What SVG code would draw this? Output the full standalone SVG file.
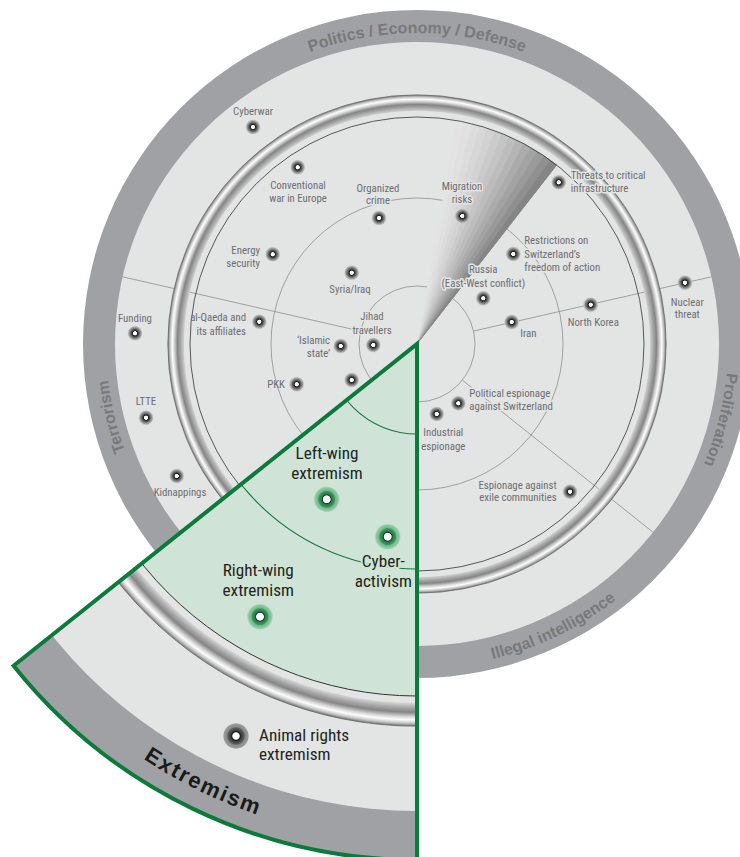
<svg xmlns="http://www.w3.org/2000/svg" width="740" height="857" viewBox="0 0 740 857">
<style>
.lbl{font-family:"Liberation Sans Narrow","Roboto Condensed","DejaVu Sans Condensed","Liberation Sans",sans-serif;font-stretch:condensed;font-size:10.8px;fill:#6d6e71}
.halo{paint-order:stroke;stroke:#e3e4e4;stroke-width:3px;stroke-linejoin:round}
.glbl{font-family:"Liberation Sans Narrow","Roboto Condensed","DejaVu Sans Condensed","Liberation Sans",sans-serif;font-stretch:condensed;font-size:17.2px;fill:#231f20}
.ghalo{paint-order:stroke;stroke:#cfe4d6;stroke-width:4px;stroke-linejoin:round}
.band{font-family:"Liberation Sans",Arial,sans-serif;font-weight:bold;font-size:16px;fill:#78797b}
.ext{font-family:"Liberation Sans",Arial,sans-serif;font-weight:bold;font-size:22px;fill:#1a1a1a;letter-spacing:1.8px}
.thin{fill:none;stroke:#8e8e8e;stroke-width:0.8}
.gthin{fill:none;stroke:#137a40;stroke-width:1.1}
.m{fill:url(#gm)}
.mg{fill:url(#gg)}
</style>
<defs>
<radialGradient id="gm">
<stop offset="0" stop-color="#fff"/><stop offset="0.24" stop-color="#fff"/><stop offset="0.32" stop-color="#1e1e1e"/><stop offset="0.52" stop-color="#555"/><stop offset="0.66" stop-color="#7d7d7d"/><stop offset="0.84" stop-color="#aaa"/><stop offset="1" stop-color="#c8c8c8" stop-opacity="0.5"/>
</radialGradient>
<radialGradient id="gg">
<stop offset="0" stop-color="#fff"/><stop offset="0.27" stop-color="#fff"/><stop offset="0.33" stop-color="#173d27"/><stop offset="0.42" stop-color="#2b7a4b"/><stop offset="0.62" stop-color="#3d9862"/><stop offset="0.68" stop-color="#6fb888"/><stop offset="0.9" stop-color="#92cba3"/><stop offset="1" stop-color="#a9d6b7" stop-opacity="0.4"/>
</radialGradient>
<radialGradient id="ga">
<stop offset="0" stop-color="#fff"/><stop offset="0.25" stop-color="#fff"/><stop offset="0.32" stop-color="#1a1a1a"/><stop offset="0.45" stop-color="#444"/><stop offset="0.62" stop-color="#5c5c5c"/><stop offset="0.72" stop-color="#8a8a8a"/><stop offset="0.94" stop-color="#9c9c9c"/><stop offset="1" stop-color="#b8b8b8" stop-opacity="0.3"/>
</radialGradient>
<radialGradient id="tube1" gradientUnits="userSpaceOnUse" cx="417" cy="344" r="249">
<stop offset="0" stop-color="#e3e4e4"/><stop offset="0.935" stop-color="#d4d4d4"/><stop offset="0.95" stop-color="#a5a5a5"/><stop offset="0.962" stop-color="#858585"/><stop offset="0.975" stop-color="#d6d6d6"/><stop offset="0.983" stop-color="#fdfdfd"/><stop offset="0.992" stop-color="#c4c4c4"/><stop offset="1" stop-color="#777"/>
</radialGradient>
<radialGradient id="tube2" gradientUnits="userSpaceOnUse" cx="417" cy="344" r="382">
<stop offset="0" stop-color="#e3e4e4"/><stop offset="0.94" stop-color="#d4d4d4"/><stop offset="0.953" stop-color="#a5a5a5"/><stop offset="0.964" stop-color="#858585"/><stop offset="0.976" stop-color="#d6d6d6"/><stop offset="0.984" stop-color="#fdfdfd"/><stop offset="0.993" stop-color="#c4c4c4"/><stop offset="1" stop-color="#777"/>
</radialGradient>
<clipPath id="wclip"><path d="M417,344 L13.58,665.72 A516,516 0 0 0 417,860 Z"/></clipPath>
<path id="pTop" d="M217.1,105.8 A311,311 0 0 1 616.9,105.8"/>
<path id="pPro" d="M696.5,207.7 A311,311 0 0 1 599.8,595.6"/>
<path id="pIll" d="M337,657.9 A324,324 0 0 0 712.3,477.3"/>
<path id="pTer" d="M231.6,593.7 A311,311 0 0 1 138.9,204.7"/>
<path id="pExt" d="M5,621.9 A497,497 0 0 0 451.7,839.8"/>
</defs>

<g id="disc">
<circle cx="417" cy="344" r="334" fill="#a0a1a4"/>
<circle cx="417" cy="344" r="302" fill="#e3e4e4"/>
</g>

<g id="connectors">
<circle class="thin" cx="417" cy="344" r="146"/>
<circle class="thin" cx="417" cy="344" r="58"/>
<line class="thin" x1="473.55" y1="331.09" x2="711.43" y2="276.8"/>
<line class="thin" x1="360.45" y1="331.09" x2="122.57" y2="276.8"/>
<line class="thin" x1="462.35" y1="380.16" x2="653.11" y2="532.29"/>
</g>

<g id="sweep">
<path d="M417,344 L456.42,120.45 A227,227 0 0 1 556.75,165.12 Z" fill="#e3e3e3"/>
<path d="M417,344 L464.2,121.96 A227,227 0 0 1 556.75,165.12 Z" fill="#e0e0e0"/>
<path d="M417,344 L471.92,123.74 A227,227 0 0 1 556.75,165.12 Z" fill="#dcdcdc"/>
<path d="M417,344 L479.57,125.79 A227,227 0 0 1 556.75,165.12 Z" fill="#d7d7d7"/>
<path d="M417,344 L487.15,128.11 A227,227 0 0 1 556.75,165.12 Z" fill="#d2d2d2"/>
<path d="M417,344 L494.64,130.69 A227,227 0 0 1 556.75,165.12 Z" fill="#cbcbcb"/>
<path d="M417,344 L502.04,133.53 A227,227 0 0 1 556.75,165.12 Z" fill="#c4c4c4"/>
<path d="M417,344 L509.33,136.62 A227,227 0 0 1 556.75,165.12 Z" fill="#bdbdbd"/>
<path d="M417,344 L516.51,139.97 A227,227 0 0 1 556.75,165.12 Z" fill="#b5b5b5"/>
<path d="M417,344 L523.57,143.57 A227,227 0 0 1 556.75,165.12 Z" fill="#acacac"/>
<path d="M417,344 L530.5,147.41 A227,227 0 0 1 556.75,165.12 Z" fill="#a3a3a3"/>
<path d="M417,344 L537.29,151.49 A227,227 0 0 1 556.75,165.12 Z" fill="#9a9a9a"/>
<path d="M417,344 L543.94,155.81 A227,227 0 0 1 556.75,165.12 Z" fill="#909090"/>
<path d="M417,344 L550.43,160.35 A227,227 0 0 1 556.75,165.12 Z" fill="#858585"/>
</g>

<g id="ring">
<circle cx="417" cy="344" r="241" fill="none" stroke="url(#tube1)" stroke-width="16"/>
<circle cx="417" cy="344" r="249.2" fill="none" stroke="#5f5f5f" stroke-width="0.7"/>
<circle cx="417" cy="344" r="227" fill="none" stroke="#333" stroke-width="0.8"/>
</g>

<g id="band-labels">
<text class="band" text-anchor="middle"><textPath href="#pTop" startOffset="50%">Politics / Economy / Defense</textPath></text>
<text class="band" text-anchor="middle"><textPath href="#pPro" startOffset="50%">Proliferation</textPath></text>
<text class="band" text-anchor="middle"><textPath href="#pIll" startOffset="50%">Illegal intelligence</textPath></text>
<text class="band" text-anchor="middle"><textPath href="#pTer" startOffset="50%">Terrorism</textPath></text>
</g>

<g id="n-cyberwar"><circle class="m" cx="253" cy="127" r="7.5"/><text class="lbl" x="253" y="115" text-anchor="middle">Cyberwar</text></g>
<g id="n-conventional"><circle class="m" cx="297.7" cy="167.3" r="7.5"/><text class="lbl" text-anchor="middle"><tspan x="298" y="189">Conventional</tspan><tspan x="298" y="202">war in Europe</tspan></text></g>
<g id="n-organized"><circle class="m" cx="379" cy="218" r="7.5"/><text class="lbl halo" text-anchor="middle"><tspan x="378" y="192">Organized</tspan><tspan x="378" y="204">crime</tspan></text></g>
<g id="n-energy"><circle class="m" cx="272.7" cy="254.3" r="7.5"/><text class="lbl" text-anchor="end"><tspan x="260" y="254">Energy</tspan><tspan x="260" y="267">security</tspan></text></g>
<g id="n-syria"><circle class="m" cx="351.7" cy="272.7" r="7.5"/><text class="lbl" x="350" y="293" text-anchor="middle">Syria/Iraq</text></g>
<g id="n-alqaeda"><circle class="m" cx="259.3" cy="321.7" r="7.5"/><text class="lbl" text-anchor="end"><tspan x="246" y="321">al-Qaeda and</tspan><tspan x="246" y="335">its affiliates</tspan></text></g>
<g id="n-jihad"><circle class="m" cx="373.3" cy="345" r="7.5"/><text class="lbl halo" text-anchor="middle"><tspan x="372" y="320">Jihad</tspan><tspan x="372" y="334">travellers</tspan></text></g>
<g id="n-islamic"><circle class="m" cx="340.7" cy="346" r="7.5"/><text class="lbl" text-anchor="end"><tspan x="330" y="344">‘Islamic</tspan><tspan x="330" y="357">state’</tspan></text></g>
<g id="n-pkk"><circle class="m" cx="296.7" cy="384.3" r="7.5"/><text class="lbl" x="285" y="388" text-anchor="end">PKK</text></g>
<g id="n-unlabeled"><circle class="m" cx="351.7" cy="380" r="7.5"/></g>
<g id="n-funding"><circle class="m" cx="135" cy="333.3" r="7.5"/><text class="lbl" x="135" y="322" text-anchor="middle">Funding</text></g>
<g id="n-ltte"><circle class="m" cx="146" cy="417.7" r="7.5"/><text class="lbl" x="146" y="405" text-anchor="middle">LTTE</text></g>
<g id="n-kidnappings"><circle class="m" cx="176.7" cy="476" r="7.5"/><text class="lbl" x="180" y="496" text-anchor="middle">Kidnappings</text></g>
<g id="n-migration"><circle class="m" cx="462.3" cy="216" r="7.5"/><text class="lbl halo" text-anchor="middle"><tspan x="462" y="190">Migration</tspan><tspan x="462" y="203">risks</tspan></text></g>
<g id="n-threats"><circle class="m" cx="558.7" cy="182.3" r="7.5"/><text class="lbl halo"><tspan x="570.7" y="179">Threats to critical</tspan><tspan x="570.7" y="192">infrastructure</tspan></text></g>
<g id="n-restrictions"><circle class="m" cx="513.3" cy="254" r="7.5"/><text class="lbl halo"><tspan x="524.3" y="244">Restrictions on</tspan><tspan x="524.3" y="258">Switzerland’s</tspan><tspan x="524.3" y="271">freedom of action</tspan></text></g>
<g id="n-russia"><circle class="m" cx="483.3" cy="298.3" r="7.5"/><text class="lbl halo" text-anchor="middle"><tspan x="483.3" y="273">Russia</tspan><tspan x="483.3" y="287">(East-West conflict)</tspan></text></g>
<g id="n-iran"><circle class="m" cx="511.7" cy="322" r="7.5"/><text class="lbl" x="528.3" y="337" text-anchor="middle">Iran</text></g>
<g id="n-northkorea"><circle class="m" cx="590.7" cy="304.7" r="7.5"/><text class="lbl" x="593.3" y="326" text-anchor="middle">North Korea</text></g>
<g id="n-nuclear"><circle class="m" cx="685" cy="282.7" r="7.5"/><text class="lbl" text-anchor="middle"><tspan x="687.3" y="306">Nuclear</tspan><tspan x="687.3" y="318">threat</tspan></text></g>
<g id="n-political"><circle class="m" cx="458.3" cy="403.3" r="7.5"/><text class="lbl halo"><tspan x="469.3" y="397">Political espionage</tspan><tspan x="469.3" y="410">against Switzerland</tspan></text></g>
<g id="n-industrial"><circle class="m" cx="436.7" cy="414" r="7.5"/><text class="lbl halo" text-anchor="middle"><tspan x="443.3" y="436">Industrial</tspan><tspan x="443.3" y="450">espionage</tspan></text></g>
<g id="n-exile"><circle class="m" cx="570" cy="491.7" r="7.5"/><text class="lbl" text-anchor="end"><tspan x="556.7" y="489">Espionage against</tspan><tspan x="556.7" y="501">exile communities</tspan></text></g>

<g id="extremism-sector">
<g clip-path="url(#wclip)">
<circle cx="417" cy="344" r="516" fill="#a0a1a4"/>
<circle cx="417" cy="344" r="467" fill="#e3e4e4"/>
<circle cx="417" cy="344" r="352" fill="#cfe4d6"/>
<circle cx="417" cy="344" r="370.5" fill="none" stroke="url(#tube2)" stroke-width="23"/>
<circle cx="417" cy="344" r="382.2" fill="none" stroke="#5f5f5f" stroke-width="0.8"/>
<circle cx="417" cy="344" r="352" fill="none" stroke="#333" stroke-width="1"/>
<circle class="gthin" cx="417" cy="344" r="90"/>
<circle class="gthin" cx="417" cy="344" r="225"/>
</g>
<text class="ext" text-anchor="middle"><textPath href="#pExt" startOffset="50%">Extremism</textPath></text>
<path d="M417,860 L417,344 L13.58,665.72 A516,516 0 0 0 417,860" fill="none" stroke="#0b7a3b" stroke-width="4" stroke-linejoin="miter"/>
</g>

<g id="n-leftwing"><circle class="mg" cx="326.7" cy="499.3" r="13"/><text class="glbl" text-anchor="middle"><tspan x="327" y="459">Left-wing</tspan><tspan x="327" y="479">extremism</tspan></text></g>
<g id="n-cyberactivism"><circle class="mg" cx="387.7" cy="536.7" r="13"/><text class="glbl ghalo" text-anchor="middle"><tspan x="383.3" y="567">Cyber-</tspan><tspan x="383.3" y="587">activism</tspan></text></g>
<g id="n-rightwing"><circle class="mg" cx="260" cy="616.7" r="13"/><text class="glbl" text-anchor="middle"><tspan x="258.3" y="576">Right-wing</tspan><tspan x="258.3" y="596">extremism</tspan></text></g>
<g id="n-animal"><circle cx="236" cy="736" r="13" fill="url(#ga)"/><text class="glbl"><tspan x="259" y="741">Animal rights</tspan><tspan x="259" y="760">extremism</tspan></text></g>
</svg>
